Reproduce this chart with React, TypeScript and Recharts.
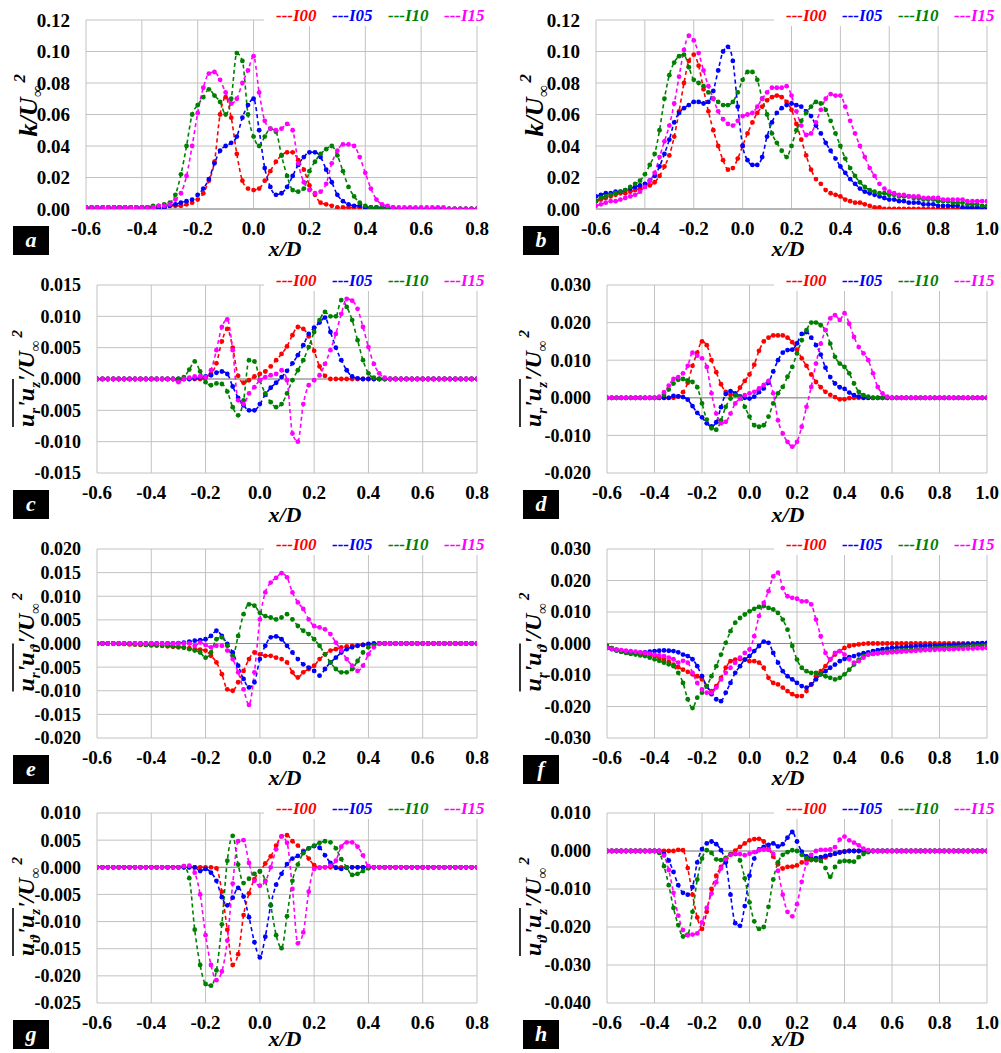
import React from 'react';
import { LineChart, Line, XAxis, YAxis, CartesianGrid, ReferenceLine } from 'recharts';

const FONT = "'Liberation Serif', 'Times New Roman', serif";
const SERIES = ['I00', 'I05', 'I10', 'I15'];
const COLORS = ['#ff0000', '#0000ff', '#008000', '#ff00ff'];

const X_LEFT = [
  -0.6, -0.58, -0.56, -0.54, -0.52, -0.5, -0.48, -0.46, -0.44, -0.42,
  -0.4, -0.38, -0.36, -0.34, -0.32, -0.3, -0.28, -0.26, -0.24, -0.22,
  -0.2, -0.18, -0.16, -0.14, -0.12, -0.1, -0.08, -0.06, -0.04, -0.02,
  0, 0.02, 0.04, 0.06, 0.08, 0.1, 0.12, 0.14, 0.16, 0.18,
  0.2, 0.22, 0.24, 0.26, 0.28, 0.3, 0.32, 0.34, 0.36, 0.38,
  0.4, 0.42, 0.44, 0.46, 0.48, 0.5, 0.52, 0.54, 0.56, 0.58,
  0.6, 0.62, 0.64, 0.66, 0.68, 0.7, 0.72, 0.74, 0.76, 0.78,
  0.8,
];
const X_RIGHT = [
  -0.6, -0.58, -0.56, -0.54, -0.52, -0.5, -0.48, -0.46, -0.44, -0.42,
  -0.4, -0.38, -0.36, -0.34, -0.32, -0.3, -0.28, -0.26, -0.24, -0.22,
  -0.2, -0.18, -0.16, -0.14, -0.12, -0.1, -0.08, -0.06, -0.04, -0.02,
  0, 0.02, 0.04, 0.06, 0.08, 0.1, 0.12, 0.14, 0.16, 0.18,
  0.2, 0.22, 0.24, 0.26, 0.28, 0.3, 0.32, 0.34, 0.36, 0.38,
  0.4, 0.42, 0.44, 0.46, 0.48, 0.5, 0.52, 0.54, 0.56, 0.58,
  0.6, 0.62, 0.64, 0.66, 0.68, 0.7, 0.72, 0.74, 0.76, 0.78,
  0.8, 0.82, 0.84, 0.86, 0.88, 0.9, 0.92, 0.94, 0.96, 0.98,
  1.0,
];
const X_TICKS_LEFT = [-0.6, -0.4, -0.2, 0, 0.2, 0.4, 0.6, 0.8];
const X_TICKS_RIGHT = [-0.6, -0.4, -0.2, 0, 0.2, 0.4, 0.6, 0.8, 1.0];

// a: k/U^2, left column
const A_I00 = [
  0, 0, 0, 0, 0, .001, .001, .001, .001, .001,
  .001, .001, .001, .001, .001, .002, .002, .002, .003, .004,
  .006, .010, .018, .030, .060, .071, .058, .035, .018, .013,
  .012, .013, .018, .024, .030, .034, .036, .036, .031, .025,
  .015, .009, .004, .003, .002, .001, .001, .001, .001, .001,
  .001, 0, 0, 0, 0, 0, 0, 0, 0, 0,
  0, 0, 0, 0, 0, 0, 0, 0, 0, 0,
  0,
];
const A_I05 = [
  .001, .001, .001, .001, .001, .001, .001, .001, .001, .001,
  .001, .001, .001, .001, .001, .002, .003, .004, .005, .006,
  .009, .013, .019, .029, .037, .040, .042, .046, .058, .066,
  .070, .050, .026, .014, .009, .010, .014, .021, .028, .033,
  .036, .036, .033, .025, .017, .009, .005, .003, .002, .002,
  .001, .001, .001, .001, .001, 0, 0, 0, 0, 0,
  0, 0, 0, 0, 0, 0, 0, 0, 0, 0,
  0,
];
const A_I10 = [
  .001, .001, .001, .001, .001, .001, .001, .001, .001, .001,
  .001, .001, .002, .002, .003, .004, .009, .022, .040, .060,
  .066, .071, .076, .072, .068, .060, .070, .099, .094, .060,
  .046, .040, .046, .051, .049, .034, .021, .012, .011, .013,
  .024, .030, .035, .038, .040, .034, .024, .014, .008, .004,
  .002, .001, .001, .001, .001, .001, 0, 0, 0, 0,
  0, 0, 0, 0, 0, 0, 0, 0, 0, 0,
  0,
];
const A_I15 = [
  .001, .001, .001, .001, .001, .001, .001, .001, .001, .001,
  .001, .001, .001, .002, .002, .003, .006, .010, .021, .040,
  .061, .077, .086, .087, .082, .074, .067, .070, .080, .088,
  .097, .074, .056, .051, .050, .051, .054, .050, .029, .017,
  .012, .010, .011, .016, .029, .037, .041, .041, .040, .033,
  .023, .013, .006, .003, .002, .001, .001, .001, .001, .001,
  .001, .001, .001, .001, .001, 0, 0, 0, 0, 0,
  0,
];

// b: k/U^2, right column
const B_I00 = [
  .005, .006, .007, .008, .009, .010, .010, .011, .012, .013,
  .014, .015, .017, .021, .027, .034, .046, .062, .080, .094,
  .098, .091, .076, .062, .050, .040, .031, .025, .026, .032,
  .040, .048, .055, .061, .065, .069, .071, .072, .071, .068,
  .063, .054, .044, .034, .025, .019, .016, .012, .010, .009,
  .008, .006, .005, .004, .004, .003, .002, .001, .001, 0,
  0, 0, 0, 0, 0, 0, 0, 0, 0, 0,
  0, 0, 0, 0, 0, 0, 0, 0, 0, 0,
  0,
];
const B_I05 = [
  .008, .009, .010, .010, .011, .011, .012, .013, .014, .015,
  .016, .018, .021, .027, .035, .044, .055, .061, .064, .066,
  .068, .068, .067, .068, .075, .088, .100, .103, .094, .065,
  .040, .031, .028, .028, .033, .046, .055, .061, .064, .066,
  .067, .066, .065, .062, .059, .053, .048, .042, .037, .032,
  .027, .023, .019, .016, .013, .011, .010, .009, .008, .007,
  .006, .006, .005, .005, .004, .004, .004, .003, .003, .003,
  .002, .002, .002, .002, .002, .001, .001, .001, .001, .001,
  .001,
];
const B_I10 = [
  .005, .007, .008, .009, .010, .011, .012, .014, .016, .018,
  .022, .028, .035, .050, .070, .085, .093, .097, .098, .090,
  .082, .080, .078, .074, .070, .068, .066, .066, .068, .074,
  .082, .087, .087, .082, .070, .060, .048, .042, .037, .033,
  .040, .050, .056, .061, .065, .068, .067, .063, .056, .048,
  .040, .032, .026, .021, .017, .014, .012, .011, .010, .010,
  .009, .009, .008, .008, .008, .007, .007, .006, .006, .006,
  .005, .005, .005, .004, .004, .004, .003, .003, .003, .002,
  .002,
];
const B_I15 = [
  .002, .003, .004, .005, .005, .006, .007, .008, .009, .011,
  .014, .018, .023, .033, .043, .053, .067, .084, .101, .110,
  .107, .099, .088, .078, .070, .062, .057, .054, .053, .056,
  .059, .060, .061, .065, .070, .074, .077, .077, .077, .078,
  .072, .062, .053, .047, .048, .055, .063, .070, .073, .072,
  .072, .065, .056, .048, .040, .033, .026, .021, .016, .013,
  .011, .010, .009, .009, .008, .008, .008, .007, .007, .007,
  .007, .006, .006, .006, .006, .006, .005, .005, .005, .005,
  .005,
];

// c: ur'uz'/U^2, left column
const C_I00 = [
  0, 0, 0, 0, 0, 0, 0, 0, 0, 0,
  0, 0, 0, 0, 0, 0, 0, 0, 0, 0,
  .0002, .0008, .0025, .0060, .0080, .0050, .0005, -.0006, -.0002, .0004,
  .0008, .0012, .0020, .0030, .0040, .0052, .0070, .0083, .0080, .0068,
  .0045, .0020, .0005, 0, 0, 0, 0, 0, 0, 0,
  0, 0, 0, 0, 0, 0, 0, 0, 0, 0,
  0, 0, 0, 0, 0, 0, 0, 0, 0, 0,
  0,
];
const C_I05 = [
  0, 0, 0, 0, 0, 0, 0, 0, 0, 0,
  0, 0, 0, 0, 0, 0, 0, 0, .0001, .0002,
  .0004, .0006, .0010, .0012, .0008, -.0012, -.0030, -.0042, -.0050, -.0050,
  -.0040, -.0025, -.0014, -.0006, .0003, .0013, .0025, .0038, .0054, .0072,
  .0082, .0090, .0098, .0075, .0050, .0030, .0014, .0004, .0001, 0,
  0, 0, 0, 0, 0, 0, 0, 0, 0, 0,
  0, 0, 0, 0, 0, 0, 0, 0, 0, 0,
  0,
];
const C_I10 = [
  0, 0, 0, 0, 0, 0, 0, 0, 0, 0,
  0, 0, 0, 0, 0, 0, .0003, .0015, .0028, .0012,
  -.0005, -.0010, -.0007, -.0008, -.0020, -.0045, -.0058, -.0034, .0030, .0028,
  -.0002, -.0023, -.0037, -.0045, -.0040, -.0023, -.0002, .0014, .0030, .0051,
  .0075, .0094, .0107, .0100, .0100, .0126, .0115, .0094, .0062, .0030,
  .0009, .0002, 0, 0, 0, 0, 0, 0, 0, 0,
  0, 0, 0, 0, 0, 0, 0, 0, 0, 0,
  0,
];
const C_I15 = [
  0, 0, 0, 0, 0, 0, 0, 0, 0, 0,
  0, 0, 0, 0, 0, -.0005, 0, .0002, .0004, .0004,
  .0003, .0014, .0046, .0083, .0095, .0046, -.0034, -.0040, -.0023, -.0013,
  -.0002, .0003, .0006, .0008, .0014, -.0002, -.0087, -.0100, -.0040, -.0010,
  -.0002, .0006, .0024, .0046, .0072, .0104, .0128, .0125, .0112, .0083,
  .0051, .0024, .0009, .0002, 0, 0, 0, 0, 0, 0,
  0, 0, 0, 0, 0, 0, 0, 0, 0, 0,
  0,
];

// d: ur'uz'/U^2, right column
const D_I00 = [
  0, 0, 0, 0, 0, 0, 0, 0, 0, 0,
  0, 0, 0, 0, 0, .0003, .0015, .0040, .0085, .0120,
  .0150, .0140, .0100, .0068, .0036, .0016, .0008, .0009, .0027, .0045,
  .0062, .0088, .0125, .0150, .0160, .0166, .0166, .0166, .0160, .0148,
  .0128, .0105, .0085, .0062, .0042, .0028, .0016, .0008, .0002, -.0004,
  -.0004, -.0001, 0, 0, 0, 0, 0, 0, 0, 0,
  0, 0, 0, 0, 0, 0, 0, 0, 0, 0,
  0, 0, 0, 0, 0, 0, 0, 0, 0, 0,
  0,
];
const D_I05 = [
  0, 0, 0, 0, 0, 0, 0, 0, 0, 0,
  0, 0, 0, 0, .0005, .0004, .0002, -.0005, -.0022, -.0040,
  -.0052, -.0068, -.0076, -.0065, -.0025, .0010, .0018, .0012, .0004, 0,
  -.0002, .0003, .0015, .0025, .0040, .0070, .0100, .0120, .0127, .0128,
  .0145, .0170, .0175, .0160, .0140, .0115, .0080, .0055, .0038, .0028,
  .0024, .0014, .0007, .0003, 0, 0, 0, 0, 0, 0,
  0, 0, 0, 0, 0, 0, 0, 0, 0, 0,
  0, 0, 0, 0, 0, 0, 0, 0, 0, 0,
  0,
];
const D_I10 = [
  0, 0, 0, 0, 0, 0, 0, 0, 0, 0,
  0, 0, .0008, .0022, .0038, .0048, .0050, .0046, .0042, .0028,
  -.0015, -.0058, -.0081, -.0085, -.0060, -.0024, -.0002, .0007, .0003, -.0024,
  -.0050, -.0073, -.0077, -.0073, -.0050, -.0015, .0012, .0029, .0056, .0082,
  .0118, .0153, .0180, .0200, .0200, .0193, .0180, .0144, .0109, .0091,
  .0082, .0065, .0038, .0016, .0007, .0003, 0, 0, 0, 0,
  0, 0, 0, 0, 0, 0, 0, 0, 0, 0,
  0, 0, 0, 0, 0, 0, 0, 0, 0, 0,
  0,
];
const D_I15 = [
  0, 0, 0, 0, 0, 0, 0, 0, 0, 0,
  0, .0003, .0015, .0032, .0050, .0055, .0065, .0085, .0120, .0112,
  .0105, .0082, .0012, -.0042, -.0068, -.0064, -.0042, -.0015, -.0002, .0007,
  .0012, .0016, .0025, .0034, .0045, .0012, -.0060, -.0095, -.0117, -.0130,
  -.0117, -.0077, -.0024, .0029, .0091, .0144, .0180, .0211, .0220, .0207,
  .0225, .0197, .0162, .0135, .0118, .0100, .0065, .0029, .0012, .0003,
  0, 0, 0, 0, 0, 0, 0, 0, 0, 0,
  0, 0, 0, 0, 0, 0, 0, 0, 0, 0,
  0,
];

// e: ur'ut'/U^2, left column
const E_I00 = [
  0, 0, 0, 0, -.0001, -.0001, -.0002, -.0002, -.0003, -.0003,
  -.0004, -.0004, -.0005, -.0006, -.0007, -.0008, -.0009, -.0010, -.0012, -.0013,
  -.0015, -.0026, -.0040, -.0065, -.0097, -.0100, -.0082, -.0058, -.0033, -.0019,
  -.0023, -.0026, -.0026, -.0030, -.0033, -.0040, -.0061, -.0072, -.0061, -.0054,
  -.0047, -.0033, -.0023, -.0015, -.0012, -.0008, -.0006, -.0005, -.0004, -.0003,
  -.0002, -.0001, 0, 0, 0, 0, 0, 0, 0, 0,
  0, 0, 0, 0, 0, 0, 0, 0, 0, 0,
  0,
];
const E_I05 = [
  0, 0, 0, 0, 0, 0, 0, 0, 0, 0,
  0, 0, 0, 0, 0, .0001, .0002, .0004, .0006, .0007,
  .0009, .0016, .0027, .0016, -.0001, -.0019, -.0047, -.0075, -.0093, -.0082,
  -.0033, -.0005, .0013, .0015, .0009, -.0005, -.0019, -.0033, -.0044, -.0051,
  -.0058, -.0068, -.0054, -.0040, -.0030, -.0019, -.0012, -.0008, -.0005, -.0003,
  -.0001, 0, 0, 0, 0, 0, 0, 0, 0, 0,
  0, 0, 0, 0, 0, 0, 0, 0, 0, 0,
  0,
];
const E_I10 = [
  0, 0, 0, 0, 0, -.0001, -.0001, -.0002, -.0002, -.0003,
  -.0003, -.0004, -.0004, -.0005, -.0006, -.0007, -.0008, -.0012, -.0015, -.0019,
  -.0030, -.0019, .0009, .0013, -.0005, -.0026, .0016, .0062, .0083, .0080,
  .0065, .0058, .0055, .0051, .0055, .0062, .0051, .0037, .0027, .0020,
  .0009, -.0005, -.0023, -.0040, -.0054, -.0061, -.0061, -.0054, -.0037, -.0019,
  -.0008, -.0004, 0, 0, 0, 0, 0, 0, 0, 0,
  0, 0, 0, 0, 0, 0, 0, 0, 0, 0,
  0,
];
const E_I15 = [
  0, 0, 0, 0, 0, 0, 0, 0, 0, 0,
  0, 0, 0, 0, 0, 0, 0, 0, -.0005, .0002,
  -.0003, -.0008, -.0005, -.0005, -.0015, -.0033, -.0061, -.0097, -.0130, -.0061,
  .0051, .0108, .0129, .0139, .0149, .0140, .0108, .0087, .0073, .0051,
  .0037, .0034, .0030, .0020, .0002, -.0015, -.0033, -.0047, -.0058, -.0047,
  -.0023, -.0008, -.0001, 0, 0, 0, 0, 0, 0, 0,
  0, 0, 0, 0, 0, 0, 0, 0, 0, 0,
  0,
];

// f: ur'ut'/U^2, right column
const F_I00 = [
  -.0010, -.0015, -.0020, -.0024, -.0027, -.0030, -.0032, -.0034, -.0035, -.0037,
  -.0040, -.0045, -.0050, -.0058, -.0067, -.0075, -.0083, -.0090, -.0098, -.0104,
  -.0114, -.0135, -.0151, -.0135, -.0109, -.0077, -.0056, -.0051, -.0049, -.0051,
  -.0056, -.0056, -.0061, -.0077, -.0109, -.0125, -.0130, -.0140, -.0151, -.0161,
  -.0167, -.0167, -.0151, -.0130, -.0104, -.0088, -.0072, -.0051, -.0035, -.0024,
  -.0014, -.0008, -.0005, -.0003, -.0001, 0, 0, 0, 0, 0,
  0, 0, 0, 0, 0, 0, 0, 0, 0, 0,
  0, 0, 0, 0, 0, 0, 0, 0, 0, 0,
  0,
];
const F_I05 = [
  -.0014, -.0018, -.0022, -.0026, -.0028, -.0030, -.0030, -.0029, -.0028, -.0026,
  -.0024, -.0023, -.0022, -.0023, -.0024, -.0028, -.0035, -.0040, -.0050, -.0072,
  -.0104, -.0135, -.0161, -.0177, -.0183, -.0156, -.0125, -.0093, -.0072, -.0051,
  -.0040, -.0024, -.0008, .0006, .0002, -.0030, -.0061, -.0088, -.0104, -.0114,
  -.0125, -.0135, -.0140, -.0130, -.0114, -.0098, -.0088, -.0077, -.0067, -.0056,
  -.0049, -.0043, -.0040, -.0035, -.0031, -.0028, -.0024, -.0021, -.0018, -.0016,
  -.0014, -.0013, -.0012, -.0011, -.0010, -.0009, -.0008, -.0008, -.0007, -.0007,
  -.0006, -.0005, -.0005, -.0004, -.0004, -.0003, -.0002, -.0001, 0, .0001,
  .0002,
];
const F_I10 = [
  -.0008, -.0015, -.0022, -.0026, -.0030, -.0033, -.0035, -.0038, -.0040, -.0045,
  -.0050, -.0055, -.0061, -.0066, -.0072, -.0093, -.0125, -.0177, -.0205, -.0172,
  -.0156, -.0135, -.0104, -.0072, -.0035, .0002, .0039, .0066, .0081, .0092,
  .0102, .0110, .0116, .0119, .0113, .0108, .0097, .0076, .0044, -.0008,
  -.0051, -.0077, -.0088, -.0093, -.0093, -.0098, -.0104, -.0109, -.0114, -.0109,
  -.0098, -.0083, -.0067, -.0051, -.0040, -.0035, -.0033, -.0031, -.0029, -.0026,
  -.0024, -.0023, -.0022, -.0021, -.0020, -.0019, -.0018, -.0017, -.0016, -.0015,
  -.0014, -.0013, -.0013, -.0012, -.0011, -.0010, -.0009, -.0008, -.0008, -.0007,
  -.0006,
];
const F_I15 = [
  -.0014, -.0017, -.0019, -.0021, -.0023, -.0024, -.0026, -.0028, -.0030, -.0032,
  -.0035, -.0038, -.0040, -.0045, -.0050, -.0061, -.0055, -.0061, -.0093, -.0125,
  -.0146, -.0156, -.0156, -.0140, -.0114, -.0093, -.0077, -.0061, -.0045, -.0030,
  -.0019, .0023, .0087, .0129, .0166, .0213, .0225, .0176, .0150, .0145,
  .0142, .0134, .0134, .0124, .0076, .0023, -.0030, -.0050, -.0030, -.0024,
  -.0035, -.0050, -.0061, -.0056, -.0045, -.0035, -.0033, -.0031, -.0030, -.0029,
  -.0028, -.0027, -.0026, -.0025, -.0024, -.0023, -.0022, -.0021, -.0021, -.0020,
  -.0019, -.0019, -.0018, -.0018, -.0017, -.0017, -.0016, -.0016, -.0015, -.0015,
  -.0014,
];

// g: ut'uz'/U^2, left column
const G_I00 = [
  0, 0, 0, 0, 0, 0, 0, 0, 0, 0,
  0, 0, 0, 0, 0, 0, 0, 0, 0, 0,
  0, 0, -.0002, -.0045, -.0115, -.0180, -.0160, -.0088, -.0048, -.0022,
  -.0008, .0007, .0020, .0040, .0057, .0059, .0048, .0040, .0030, .0016,
  .0004, -.0001, 0, 0, 0, 0, 0, 0, 0, 0,
  0, 0, 0, 0, 0, 0, 0, 0, 0, 0,
  0, 0, 0, 0, 0, 0, 0, 0, 0, 0,
  0,
];
const G_I05 = [
  0, 0, 0, 0, 0, 0, 0, 0, 0, 0,
  0, 0, 0, 0, 0, 0, 0, 0, 0, -.0007,
  -.0003, -.0010, -.0025, -.0055, -.0070, -.0056, -.0038, -.0054, -.0092, -.0138,
  -.0166, -.0128, -.0070, -.0032, -.0012, .0006, .0016, .0021, .0028, .0035,
  .0039, .0036, .0022, .0008, -.0001, -.0003, -.0001, 0, 0, 0,
  0, 0, 0, 0, 0, 0, 0, 0, 0, 0,
  0, 0, 0, 0, 0, 0, 0, 0, 0, 0,
  0,
];
const G_I10 = [
  0, 0, 0, 0, 0, 0, 0, 0, 0, 0,
  0, 0, 0, 0, 0, 0, .0002, -.0020, -.0115, -.0180,
  -.0215, -.0218, -.0190, -.0105, .0012, .0058, .0005, -.0029, -.0021, -.0012,
  -.0007, -.0025, -.0070, -.0125, -.0149, -.0090, -.0025, .0005, .0026, .0035,
  .0040, .0045, .0048, .0046, .0035, .0015, 0, -.0014, -.0012, -.0007,
  -.0002, 0, 0, 0, 0, 0, 0, 0, 0, 0,
  0, 0, 0, 0, 0, 0, 0, 0, 0, 0,
  0,
];
const G_I15 = [
  0, 0, 0, 0, 0, 0, 0, 0, 0, 0,
  0, 0, 0, 0, 0, 0, .0002, .0003, -.0010, -.0050,
  -.0125, -.0180, -.0208, -.0192, -.0135, -.0030, .0048, .0050, .0008, -.0025,
  -.0034, -.0026, 0, .0033, .0057, .0045, -.0040, -.0140, -.0120, -.0045,
  -.0003, 0, 0, .0003, .0012, .0038, .0046, .0046, .0038, .0022,
  .0002, 0, 0, 0, 0, 0, 0, 0, 0, 0,
  0, 0, 0, 0, 0, 0, 0, 0, 0, 0,
  0,
];

// h: ut'uz'/U^2, right column
const H_I00 = [
  0, 0, 0, 0, 0, 0, 0, 0, 0, 0,
  0, 0, 0, 0, 0, .0003, .0002, -.0045, -.0115, -.0175,
  -.0205, -.0160, -.0100, -.0065, -.0042, -.0027, -.0010, .0001, .0011, .0020,
  .0028, .0031, .0032, .0025, .0007, -.0015, -.0035, -.0046, -.0042, -.0041,
  -.0038, -.0030, -.0025, -.0024, -.0024, -.0021, -.0017, -.0011, -.0007, -.0003,
  -.0001, 0, 0, 0, 0, 0, 0, 0, 0, 0,
  0, 0, 0, 0, 0, 0, 0, 0, 0, 0,
  0, 0, 0, 0, 0, 0, 0, 0, 0, 0,
  0,
];
const H_I05 = [
  0, 0, 0, 0, 0, 0, 0, 0, 0, 0,
  0, 0, -.0008, -.0025, -.0055, -.0090, -.0110, -.0115, -.0095, -.0030,
  .0005, .0020, .0025, .0018, .0002, -.0030, -.0115, -.0190, -.0197, -.0145,
  -.0065, -.0020, .0004, .0011, .0016, .0020, .0012, .0018, .0035, .0050,
  .0025, -.0002, -.0014, -.0019, -.0019, -.0016, -.0013, -.0010, -.0007, -.0004,
  -.0002, 0, 0, 0, 0, 0, 0, 0, 0, 0,
  0, 0, 0, 0, 0, 0, 0, 0, 0, 0,
  0, 0, 0, 0, 0, 0, 0, 0, 0, 0,
  0,
];
const H_I10 = [
  0, 0, 0, 0, 0, 0, 0, 0, 0, 0,
  0, -.0005, -.0040, -.0090, -.0150, -.0195, -.0225, -.0220, -.0160, -.0075,
  -.0020, .0002, -.0005, -.0022, -.0024, -.0018, -.0008, -.0008, -.0025, -.0072,
  -.0135, -.0185, -.0205, -.0200, -.0147, -.0075, -.0030, -.0010, -.0003, .0002,
  0, -.0010, -.0019, -.0023, -.0024, -.0026, -.0045, -.0068, -.0042, -.0028,
  -.0026, -.0027, -.0028, -.0016, -.0008, -.0003, 0, 0, 0, 0,
  0, 0, 0, 0, 0, 0, 0, 0, 0, 0,
  0, 0, 0, 0, 0, 0, 0, 0, 0, 0,
  0,
];
const H_I15 = [
  0, 0, 0, 0, 0, 0, 0, 0, 0, 0,
  0, 0, -.0012, -.0050, -.0110, -.0170, -.0208, -.0222, -.0220, -.0217,
  -.0188, -.0150, -.0112, -.0082, -.0046, -.0022, -.0010, -.0006, -.0008, -.0011,
  -.0007, -.0003, .0002, .0004, .0003, -.0008, -.0052, -.0115, -.0160, -.0172,
  -.0140, -.0081, -.0032, -.0010, 0, .0003, .0003, .0004, .0010, .0030,
  .0038, .0028, .0022, .0015, .0006, .0002, 0, 0, 0, 0,
  0, 0, 0, 0, 0, 0, 0, 0, 0, 0,
  0, 0, 0, 0, 0, 0, 0, 0, 0, 0,
  0,
];

const K_TICKS = [0, 0.02, 0.04, 0.06, 0.08, 0.1, 0.12];
const C_TICKS = [-0.015, -0.01, -0.005, 0, 0.005, 0.01, 0.015];
const D_TICKS = [-0.02, -0.01, 0, 0.01, 0.02, 0.03];
const E_TICKS = [-0.02, -0.015, -0.01, -0.005, 0, 0.005, 0.01, 0.015, 0.02];
const F_TICKS = [-0.03, -0.02, -0.01, 0, 0.01, 0.02, 0.03];
const G_TICKS = [-0.025, -0.02, -0.015, -0.01, -0.005, 0, 0.005, 0.01];
const H_TICKS = [-0.04, -0.03, -0.02, -0.01, 0, 0.01];

type Part = [string, 'n' | 'sub' | 'sup'];
const LABEL_K: Part[] = [['k/U', 'n'], ['\u221e', 'sub'], ['2', 'sup']];
const LABEL_RZ: Part[] = [['u', 'n'], ['r', 'sub'], ["'", 'n'], ['u', 'n'], ['z', 'sub'], ["'", 'n'], ['/U', 'n'], ['\u221e', 'sub'], ['2', 'sup']];
const LABEL_RT: Part[] = [['u', 'n'], ['r', 'sub'], ["'", 'n'], ['u', 'n'], ['\u03d1', 'sub'], ["'", 'n'], ['/U', 'n'], ['\u221e', 'sub'], ['2', 'sup']];
const LABEL_TZ: Part[] = [['u', 'n'], ['\u03d1', 'sub'], ["'", 'n'], ['u', 'n'], ['z', 'sub'], ["'", 'n'], ['/U', 'n'], ['\u221e', 'sub'], ['2', 'sup']];

const PANELS = [
  { id: 'a', col: 0, left: 86, right: 477, top: 20, bottom: 209, xs: X_LEFT, xt: X_TICKS_LEFT, s: [A_I00, A_I05, A_I10, A_I15], yt: K_TICKS, dec: 2, label: LABEL_K, bar: false },
  { id: 'b', col: 1, left: 596, right: 987, top: 20, bottom: 209, xs: X_RIGHT, xt: X_TICKS_RIGHT, s: [B_I00, B_I05, B_I10, B_I15], yt: K_TICKS, dec: 2, label: LABEL_K, bar: false },
  { id: 'c', col: 0, left: 97, right: 477, top: 285, bottom: 473, xs: X_LEFT, xt: X_TICKS_LEFT, s: [C_I00, C_I05, C_I10, C_I15], yt: C_TICKS, dec: 3, label: LABEL_RZ, bar: true },
  { id: 'd', col: 1, left: 607, right: 987, top: 285, bottom: 473, xs: X_RIGHT, xt: X_TICKS_RIGHT, s: [D_I00, D_I05, D_I10, D_I15], yt: D_TICKS, dec: 3, label: LABEL_RZ, bar: true },
  { id: 'e', col: 0, left: 97, right: 477, top: 549, bottom: 738, xs: X_LEFT, xt: X_TICKS_LEFT, s: [E_I00, E_I05, E_I10, E_I15], yt: E_TICKS, dec: 3, label: LABEL_RT, bar: true },
  { id: 'f', col: 1, left: 607, right: 987, top: 549, bottom: 738, xs: X_RIGHT, xt: X_TICKS_RIGHT, s: [F_I00, F_I05, F_I10, F_I15], yt: F_TICKS, dec: 3, label: LABEL_RT, bar: true },
  { id: 'g', col: 0, left: 97, right: 477, top: 813, bottom: 1003, xs: X_LEFT, xt: X_TICKS_LEFT, s: [G_I00, G_I05, G_I10, G_I15], yt: G_TICKS, dec: 3, label: LABEL_TZ, bar: true },
  { id: 'h', col: 1, left: 607, right: 987, top: 813, bottom: 1003, xs: X_RIGHT, xt: X_TICKS_RIGHT, s: [H_I00, H_I05, H_I10, H_I15], yt: H_TICKS, dec: 3, label: LABEL_TZ, bar: true },
];

const xTickStyle = { fontFamily: FONT, fontWeight: 'bold', fontSize: 19, fill: '#000' };

function Panel({ p }: { p: any }) {
  const colX = p.col * 500;
  const plotH = p.bottom - p.top;
  const data = p.xs.map((x: number, i: number) => ({
    x, I00: p.s[0][i], I05: p.s[1][i], I10: p.s[2][i], I15: p.s[3][i],
  }));
  const yMin = p.yt[0];
  const yMax = p.yt[p.yt.length - 1];
  const yTickStyle = { fontFamily: FONT, fontWeight: 'bold', fontSize: p.dec === 2 ? 19 : 18, fill: '#000' };
  return (
    <div style={{ position: 'absolute', left: colX, top: p.top - 20 }}>
      <LineChart width={500} height={plotH + 60} data={data}
        margin={{ top: 20, right: colX + 500 - p.right, bottom: 0, left: 0 }}>
        <CartesianGrid stroke="#c2c2c2" strokeWidth={1} />
        <XAxis type="number" dataKey="x" domain={[p.xt[0], p.xt[p.xt.length - 1]]} ticks={p.xt}
          interval={0} height={40} axisLine={false} tickLine={false} tickSize={0} tickMargin={13}
          tickFormatter={(v: number) => v.toFixed(1)} tick={xTickStyle} allowDataOverflow />
        <YAxis type="number" domain={[yMin, yMax]} ticks={p.yt} interval={0}
          width={p.left - colX} axisLine={false} tickLine={false} tickSize={0} tickMargin={16}
          tickFormatter={(v: number) => v.toFixed(p.dec)} tick={yTickStyle} allowDataOverflow />
        <ReferenceLine y={0} stroke="#8a8a8a" strokeWidth={1} />
        {SERIES.map((k, i) => (
          <Line key={k} type="monotone" dataKey={k} stroke={COLORS[i]} strokeWidth={1.6}
            strokeDasharray="4 3" dot={{ r: 2.4, fill: COLORS[i], stroke: 'none' }}
            activeDot={false} isAnimationActive={false} />
        ))}
      </LineChart>
    </div>
  );
}

function YTitle({ x, y, parts, bar }: { x: number; y: number; parts: Part[]; bar: boolean }) {
  const main = bar ? 24 : 26;
  const small = bar ? 15 : 17;
  let shift = 0;
  const spans = parts.map(([t, kind], i) => {
    const target = kind === 'sub' ? 6 : kind === 'sup' ? -12 : 0;
    const dy = target - shift;
    shift = target;
    return (
      <tspan key={i} dy={dy} dx={kind === 'sup' ? 3 : 0} fontSize={kind === 'n' ? main : small}>{t}</tspan>
    );
  });
  const start = bar ? -48 : -28;
  return (
    <g transform={`translate(${x},${y}) rotate(-90)`}>
      <text x={start} y={0} fontFamily={FONT} fontWeight="bold" fontStyle="italic" fontSize={main} fill="#000">
        {spans}
      </text>
      {bar && <line x1={start} x2={start + 48} y1={-21} y2={-21} stroke="#000" strokeWidth={1.6} />}
    </g>
  );
}

function Overlay() {
  return (
    <svg width={1001} height={1053} style={{ position: 'absolute', left: 0, top: 0, pointerEvents: 'none' }}>
      {PANELS.map((p) => {
        const colX = p.col * 500;
        const legX = colX + 276 + p.col * 10;
        const cy = (p.top + p.bottom) / 2 - (p.bar ? 0 : 6);
        const boxX = colX + (p.col ? 23 : 13);
        const xdY = p.bottom + (p.id === 'c' || p.id === 'd' ? 49 : p.id === 'g' || p.id === 'h' ? 43 : 47);
        return (
          <g key={p.id}>
            <rect x={legX - 12} y={p.top - 20} width={colX + 500 - legX + 12} height={26} fill="#fff" />
            {SERIES.map((k, i) => (
              <text key={k} x={legX + i * 56} y={p.top + 1} fill={COLORS[i]} fontFamily={FONT}
                fontWeight="bold" fontStyle="italic" fontSize={17}>{'---' + k}</text>
            ))}
            <YTitle x={colX + (p.bar ? (p.col ? 41 : 34) : (p.col ? 43 : 37))} y={cy} parts={p.label} bar={p.bar} />
            <text x={colX + (p.col ? 288 : 285)} y={xdY} textAnchor="middle"
              fontFamily={FONT} fontWeight="bold" fontStyle="italic" fontSize={22} fill="#000">x/D</text>
            <rect x={boxX} y={p.bottom + 17} width={36} height={29} fill="#000" />
            <text x={boxX + 18} y={p.bottom + 38} textAnchor="middle" fontFamily={FONT}
              fontWeight="bold" fontStyle="italic" fontSize={22} fill="#fff">{p.id}</text>
          </g>
        );
      })}
    </svg>
  );
}

export default function App() {
  return (
    <div style={{ position: 'absolute', left: 0, top: 0, width: 1001, height: 1053, background: '#fff', overflow: 'hidden' }}>
      {PANELS.map((p) => <Panel key={p.id} p={p} />)}
      <Overlay />
    </div>
  );
}
